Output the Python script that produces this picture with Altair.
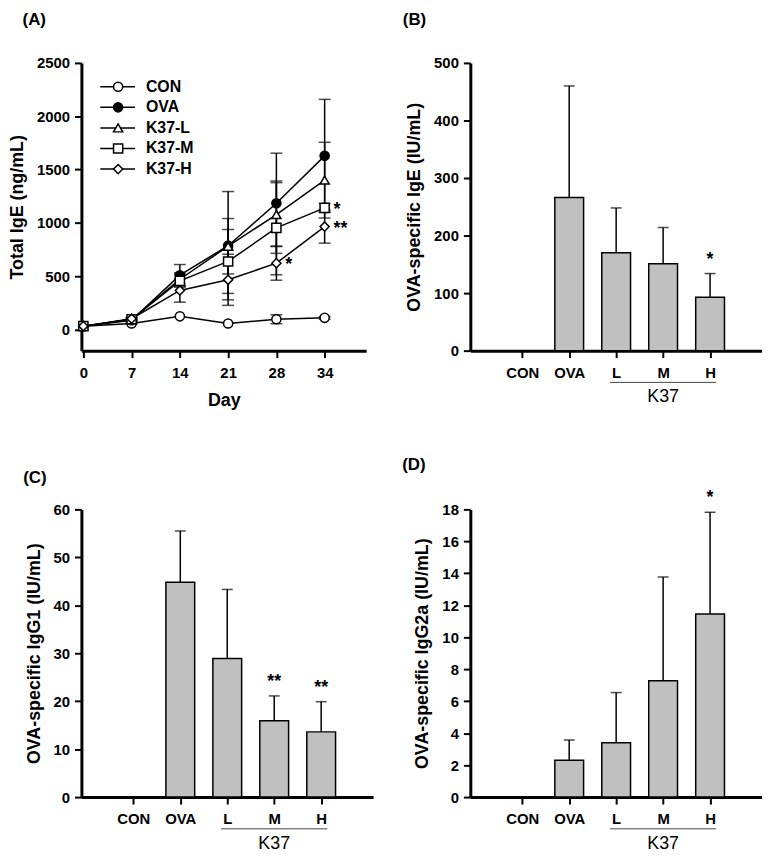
import json
import altair as alt
import pandas as pd

FONT = "Liberation Sans"

# ---------------- Panel A data ----------------
DAYS = [0, 7, 14, 21, 28, 34]
SERIES = ["CON", "OVA", "K37-L", "K37-M", "K37-H"]
CON_MEAN = [30, 55, 122, 55, 95, 108]
OVA_MEAN = [30, 85, 508, 785, 1183, 1628]
K37L_MEAN = [30, 95, 470, 780, 1077, 1400]
K37M_MEAN = [30, 95, 455, 637, 952, 1140]
K37H_MEAN = [30, 100, 365, 465, 621, 964]
CON_ERR = [0, 8, 0, 0, 42, 12]
OVA_ERR = [0, 12, 100, 508, 470, 530]
K37L_ERR = [0, 12, 60, 260, 300, 355]
K37M_ERR = [0, 12, 60, 300, 440, 40]
K37H_ERR = [0, 12, 110, 240, 160, 155]
CON_SIG = ["", "", "", "", "", ""]
OVA_SIG = ["", "", "", "", "", ""]
K37L_SIG = ["", "", "", "", "", ""]
K37M_SIG = ["", "", "", "", "", "*"]
K37H_SIG = ["", "", "", "", "*", "**"]

# ---------------- Panels B-D data ----------------
GROUPS = ["CON", "OVA", "L", "M", "H"]
B_MEAN = [0, 266, 170, 151, 93]
B_ERR = [0, 194, 78, 63, 41]
B_SIG = ["", "", "", "", "*"]
C_MEAN = [0, 44.8, 28.9, 15.9, 13.6]
C_ERR = [0, 10.7, 14.4, 5.2, 6.3]
C_SIG = ["", "", "", "**", "**"]
D_MEAN = [0, 2.3, 3.4, 7.28, 11.45]
D_ERR = [0, 1.27, 3.14, 6.49, 6.37]
D_SIG = ["", "", "", "", "*"]

SHAPES = ["circle", "circle", "triangle-up", "square", "diamond"]
FILLS = ["white", "black", "white", "white", "white"]
SIZES = [85, 85, 80, 64, 105]

H = 290

# ---------------- Panel A ----------------
means = [CON_MEAN, OVA_MEAN, K37L_MEAN, K37M_MEAN, K37H_MEAN]
errs = [CON_ERR, OVA_ERR, K37L_ERR, K37M_ERR, K37H_ERR]
sigs = [CON_SIG, OVA_SIG, K37L_SIG, K37M_SIG, K37H_SIG]
rows = []
for s, m_list, e_list, g_list in zip(SERIES, means, errs, sigs):
    for i, d in enumerate(DAYS):
        m, e = m_list[i], e_list[i]
        rows.append(dict(series=s, idx=i, day=d, mean=m, lo=m - e, hi=m + e, err=e, sig=g_list[i]))
dfA = pd.DataFrame(rows)

xA = alt.X("idx:Q", scale=alt.Scale(domain=[-0.04, 5.86], nice=False, zero=False),
           axis=alt.Axis(values=list(range(len(DAYS))),
                         labelExpr=f"{json.dumps(DAYS)}[datum.value]", title="Day",
                         titlePadding=11))
yA_scale = alt.Scale(domain=[-200, 2500], nice=False, zero=False)
yA_axis = alt.Axis(values=[0, 500, 1000, 1500, 2000, 2500], format="d", title="Total IgE (ng/mL)")


def yA(field):
    return alt.Y(f"{field}:Q", scale=yA_scale, axis=yA_axis)


shape_enc = alt.Shape("series:N", scale=alt.Scale(domain=SERIES, range=SHAPES), legend=None)
fill_enc = alt.Fill("series:N", scale=alt.Scale(domain=SERIES, range=FILLS), legend=None)
size_enc = alt.Size("series:N", scale=alt.Scale(domain=SERIES, range=SIZES), legend=None)

baseA = alt.Chart(dfA)
errA = baseA.transform_filter("datum.err > 0")
a_rule = errA.mark_rule(color="black", strokeWidth=1.5).encode(x=xA, y=yA("lo"), y2="hi:Q")
a_cap_hi = errA.mark_tick(orient="horizontal", size=12, thickness=1.5, color="black").encode(
    x=xA, y=yA("hi"))
a_cap_lo = errA.mark_tick(orient="horizontal", size=12, thickness=1.5, color="black").encode(
    x=xA, y=yA("lo"))
a_line = baseA.mark_line(color="black", strokeWidth=1.5).encode(
    x=xA, y=yA("mean"), detail="series:N", order="idx:Q")
a_pts = baseA.mark_point(filled=True, stroke="black", strokeWidth=1.5, opacity=1).encode(
    x=xA, y=yA("mean"), shape=shape_enc, fill=fill_enc, size=size_enc)
a_sig = baseA.transform_filter("datum.sig != ''").mark_text(
    align="left", baseline="middle", dx=9, dy=2, fontSize=18, fontWeight="bold", font=FONT).encode(
    x=xA, y=yA("mean"), text="sig:N")

main_A = alt.layer(a_rule, a_cap_hi, a_cap_lo, a_line, a_pts, a_sig)

dfLeg = pd.DataFrame({"series": SERIES})
legY = alt.Y("series:N", scale=alt.Scale(type="point", domain=SERIES, range=[24, 107], padding=0),
             axis=None)
legbase = alt.Chart(dfLeg)
leg_rule = legbase.mark_rule(color="black", strokeWidth=1.5).encode(
    x=alt.value(19), x2=alt.value(54), y=legY)
leg_pts = legbase.mark_point(filled=True, stroke="black", strokeWidth=1.5, opacity=1).encode(
    x=alt.value(37), y=legY, shape=shape_enc, fill=fill_enc, size=size_enc)
leg_txt = legbase.mark_text(align="left", baseline="middle", fontSize=16, fontWeight="bold",
                            font=FONT).encode(x=alt.value(65), y=legY, text="series:N")
legend_A = alt.layer(leg_rule, leg_pts, leg_txt)

panelA = alt.layer(main_A, legend_A).resolve_scale(y="independent").properties(
    width=287, height=H,
    title=alt.TitleParams("(A)", anchor="start", frame="bounds", fontSize=17, fontWeight="bold",
                          font=FONT, offset=27, dx=14))


# ---------------- Bar panels ----------------
def bar_panel(mean, err, sig, ymax, ystep, ytitle, label, toff, tdx):
    df = pd.DataFrame(dict(grp=GROUPS, idx=list(range(len(GROUPS))), mean=mean,
                           hi=[m + e for m, e in zip(mean, err)], sig=sig))
    x = alt.X("idx:Q", scale=alt.Scale(domain=[-1, len(GROUPS)], nice=False, zero=False),
              axis=alt.Axis(values=list(range(len(GROUPS))),
                            labelExpr=f"{json.dumps(GROUPS)}[datum.value]", title=None))
    nt = int(round(ymax / ystep))
    y_scale = alt.Scale(domain=[0, ymax], nice=False)
    y_axis = alt.Axis(values=[k * ystep for k in range(nt + 1)], format="d", title=ytitle)

    def y(field):
        return alt.Y(f"{field}:Q", scale=y_scale, axis=y_axis)

    base = alt.Chart(df).transform_filter("datum.mean > 0")
    bars = base.mark_bar(size=29, fill="#c0c0c0", stroke="black", strokeWidth=1.5).encode(
        x=x, y=y("mean"))
    rule = base.mark_rule(color="black", strokeWidth=1.5).encode(x=x, y=y("mean"), y2="hi:Q")
    cap = base.mark_tick(orient="horizontal", size=11, thickness=1.5, color="black").encode(
        x=x, y=y("hi"))
    stars = base.transform_filter("datum.sig != ''").mark_text(
        baseline="middle", dy=-14, fontSize=18, fontWeight="bold", font=FONT).encode(
        x=x, y=y("hi"), text="sig:N")
    i0 = GROUPS.index("L")
    i1 = GROUPS.index("H")
    dfk = pd.DataFrame(dict(x0=[i0 - 0.13], x1=[i1 + 0.13], mid=[GROUPS.index("M")], t=["K37"]))
    kbase = alt.Chart(dfk)
    k_rule = kbase.mark_rule(color="#444444", strokeWidth=1).encode(
        x=alt.X("x0:Q"), x2="x1:Q", y=alt.value(H + 32))
    k_txt = kbase.mark_text(baseline="middle", fontSize=18, font=FONT).encode(
        x=alt.X("mid:Q"), y=alt.value(H + 47), text="t:N")
    return alt.layer(bars, rule, cap, stars, k_rule, k_txt).properties(
        width=294, height=H,
        title=alt.TitleParams(label, anchor="start", frame="bounds", fontSize=17,
                              fontWeight="bold", font=FONT, offset=toff, dx=tdx))


panelB = bar_panel(B_MEAN, B_ERR, B_SIG, 500, 100, "OVA-specific IgE (IU/mL)", "(B)", 27, -3)
panelC = bar_panel(C_MEAN, C_ERR, C_SIG, 60, 10, "OVA-specific IgG1 (IU/mL)", "(C)", 16, -2)
panelD = bar_panel(D_MEAN, D_ERR, D_SIG, 18, 2, "OVA-specific IgG2a (IU/mL)", "(D)", 16, -12)

chart = alt.concat(panelA, panelB, panelC, panelD, columns=2,
                   spacing={"row": 46, "column": 29}).properties(
    padding=0
).configure_view(stroke=None).configure_axis(
    domainColor="black", domainWidth=3, tickColor="black", tickWidth=2, tickSize=7,
    labelColor="black", labelFont=FONT, labelFontSize=15, labelFontWeight="bold",
    labelPadding=5, labelOverlap=False, titleFont=FONT, titleFontSize=18, titleFontWeight="bold",
    titleColor="black", titlePadding=10, grid=False
).configure_axisX(labelPadding=8).configure_text(color="black")

chart.save("out.html", embed_options={"renderer": "svg", "actions": False})
